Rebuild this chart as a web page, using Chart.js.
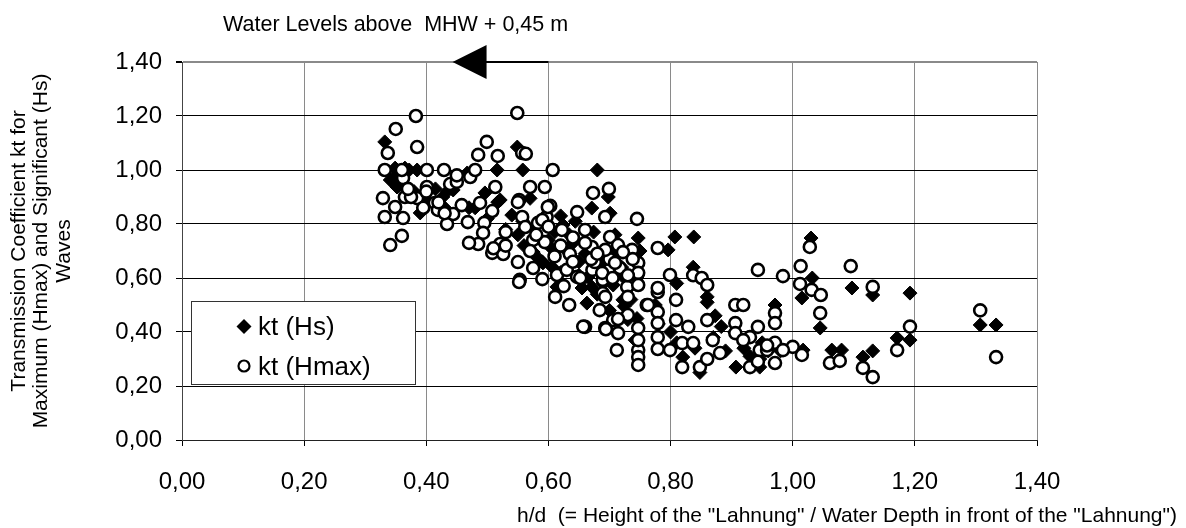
<!DOCTYPE html>
<html>
<head>
<meta charset="utf-8">
<script src="https://cdn.jsdelivr.net/npm/chart.js@4.4.0/dist/chart.umd.min.js"></script>
<style>
    html, body { margin: 0; padding: 0; background: #fff; }
    #wrap { position: relative; width: 1186px; height: 528px; }
</style>
</head>
<body>
<div id="wrap"><canvas id="chart"></canvas></div>
<script>
// Ticks for both axes (h/d and kt)
const xTickValues = [0, 0.2, 0.4, 0.6, 0.8, 1.0, 1.2, 1.4];
const yTickValues = [0, 0.2, 0.4, 0.6, 0.8, 1.0, 1.2, 1.4];

// kt (Hs) - [h/d, kt]
const ktHs = [
    [0.332, 1.104], [0.349, 1.007], [0.365, 1.007], [0.385, 1.0], [0.372, 1.0], [0.341, 0.963],
    [0.352, 0.937], [0.362, 0.94], [0.39, 0.841], [0.415, 0.93], [0.427, 0.90], [0.434, 0.92],
    [0.444, 0.926], [0.467, 0.989], [0.47, 0.86], [0.496, 0.915], [0.517, 0.881], [0.516, 1.0],
    [0.558, 1.0], [0.549, 1.085], [0.68, 1.0], [0.54, 0.833], [0.521, 0.889], [0.558, 0.81],
    [0.57, 0.895], [0.575, 0.785], [0.575, 0.696], [0.59, 0.66], [0.603, 0.715], [0.606, 0.641],
    [0.591, 0.656], [0.62, 0.83], [0.624, 0.796], [0.614, 0.567], [0.634, 0.76], [0.64, 0.674],
    [0.644, 0.81], [0.655, 0.563], [0.657, 0.595], [0.663, 0.507], [0.665, 0.604], [0.671, 0.859],
    [0.671, 0.567], [0.674, 0.77], [0.698, 0.90], [0.701, 0.84], [0.706, 0.574], [0.709, 0.76],
    [0.722, 0.519], [0.724, 0.495], [0.73, 0.446], [0.742, 0.37], [0.747, 0.748], [0.75, 0.70],
    [0.78, 0.43], [0.796, 0.704], [0.807, 0.752], [0.81, 0.58], [0.82, 0.307], [0.837, 0.64],
    [0.838, 0.752], [0.848, 0.25], [0.86, 0.53], [0.86, 0.51], [0.873, 0.46], [0.883, 0.42],
    [0.905, 0.40], [0.907, 0.27], [0.92, 0.34], [0.946, 0.27], [0.946, 0.30], [0.96, 0.33],
    [0.971, 0.50], [1.017, 0.333], [1.015, 0.526], [1.03, 0.748], [1.032, 0.60], [1.045, 0.415],
    [1.064, 0.333], [1.08, 0.333], [1.097, 0.563], [1.115, 0.307], [1.131, 0.537], [1.131, 0.33],
    [1.171, 0.378], [1.192, 0.544], [1.192, 0.37], [1.307, 0.426], [1.333, 0.426],
    [0.60, 0.74], [0.63, 0.70], [0.65, 0.66], [0.68, 0.63], [0.69, 0.58], [0.72, 0.61],
    [0.73, 0.56], [0.70, 0.48], [0.745, 0.60], [0.745, 0.45], [0.775, 0.50], [0.80, 0.40],
    [0.81, 0.36], [0.84, 0.34], [0.87, 0.38], [0.89, 0.33], [0.93, 0.31], [0.95, 0.36],
    [0.98, 0.33], [0.56, 0.72], [0.53, 0.78], [0.50, 0.82], [0.48, 0.86], [0.46, 0.87],
    [0.43, 0.86], [0.40, 0.89], [0.38, 0.92], [0.36, 0.96], [0.35, 0.98],
    [0.61, 0.77], [0.64, 0.73], [0.66, 0.69], [0.69, 0.66], [0.71, 0.70], [0.72, 0.64],
    [0.62, 0.62], [0.65, 0.61], [0.58, 0.68], [0.55, 0.76], [0.68, 0.54], [0.735, 0.52]
];

// kt (Hmax) - [h/d, kt]
const ktHmax = [
    [0.383, 1.20], [0.350, 1.152], [0.385, 1.085], [0.337, 1.063], [0.332, 1.0], [0.362, 0.97],
    [0.401, 1.0], [0.429, 1.0], [0.401, 0.937], [0.439, 0.948], [0.329, 0.896], [0.365, 0.90],
    [0.385, 0.896], [0.349, 0.863], [0.332, 0.826], [0.362, 0.822], [0.414, 0.878], [0.419, 0.852],
    [0.434, 0.80], [0.458, 0.87], [0.36, 0.756], [0.341, 0.722], [0.468, 0.807], [0.444, 0.837],
    [0.549, 1.211], [0.499, 1.104], [0.485, 1.056], [0.517, 1.052], [0.557, 1.063], [0.563, 1.06],
    [0.607, 1.0], [0.472, 0.974], [0.45, 0.956], [0.513, 0.937], [0.57, 0.937], [0.594, 0.937],
    [0.488, 0.878], [0.508, 0.848], [0.552, 0.889], [0.557, 0.826], [0.603, 0.867], [0.597, 0.826],
    [0.583, 0.804], [0.562, 0.789], [0.495, 0.804], [0.493, 0.767], [0.485, 0.726], [0.508, 0.693],
    [0.526, 0.689], [0.55, 0.659], [0.575, 0.741], [0.594, 0.733], [0.673, 0.915], [0.699, 0.93],
    [0.55, 0.881], [0.599, 0.863], [0.647, 0.844], [0.59, 0.815], [0.693, 0.826], [0.745, 0.819],
    [0.622, 0.778], [0.66, 0.778], [0.701, 0.752], [0.521, 0.726], [0.635, 0.689], [0.671, 0.715],
    [0.714, 0.722], [0.737, 0.704], [0.779, 0.711], [0.575, 0.637], [0.614, 0.611], [0.647, 0.604],
    [0.689, 0.593], [0.553, 0.593], [0.59, 0.596], [0.63, 0.63], [0.672, 0.63], [0.729, 0.567],
    [0.799, 0.611], [0.611, 0.53], [0.634, 0.50], [0.689, 0.544], [0.779, 0.548], [0.684, 0.481],
    [0.761, 0.50], [0.652, 0.60], [0.676, 0.659], [0.688, 0.619], [0.717, 0.637], [0.706, 0.444],
    [0.73, 0.463], [0.747, 0.415], [0.66, 0.419], [0.693, 0.415], [0.712, 0.333], [0.747, 0.333],
    [0.747, 0.307], [0.747, 0.278], [0.779, 0.474], [0.779, 0.433], [0.779, 0.381], [0.779, 0.337],
    [0.799, 0.333], [0.809, 0.519], [0.809, 0.444], [0.819, 0.359], [0.819, 0.27], [0.837, 0.359],
    [0.848, 0.27], [0.86, 0.444], [0.869, 0.37], [0.881, 0.322], [0.906, 0.50], [0.919, 0.50],
    [0.906, 0.433], [0.906, 0.396], [0.93, 0.381], [0.943, 0.419], [0.93, 0.27], [0.946, 0.333],
    [0.958, 0.333], [0.971, 0.47], [0.971, 0.433], [0.971, 0.36], [0.971, 0.285], [0.943, 0.63],
    [0.984, 0.607], [1.0, 0.345], [1.013, 0.644], [1.012, 0.578], [1.028, 0.715], [1.031, 0.556],
    [1.046, 0.537], [1.045, 0.47], [1.015, 0.315], [1.061, 0.285], [1.077, 0.293], [1.095, 0.644],
    [1.115, 0.267], [1.131, 0.233], [1.131, 0.567], [1.171, 0.333], [1.192, 0.42], [1.307, 0.48],
    [1.333, 0.307], [0.70, 0.67], [0.693, 0.704], [0.709, 0.656], [0.722, 0.696], [0.747, 0.656],
    [0.747, 0.619], [0.747, 0.574], [0.73, 0.53], [0.693, 0.53], [0.714, 0.448], [0.714, 0.396],
    [0.747, 0.37], [0.763, 0.50], [0.779, 0.563], [0.829, 0.419], [0.837, 0.61], [0.851, 0.60],
    [0.86, 0.574], [0.86, 0.30], [0.919, 0.37], [0.943, 0.29], [0.958, 0.35], [0.984, 0.333],
    [0.73, 0.61], [0.738, 0.67], [0.67, 0.67], [0.66, 0.73], [0.64, 0.75], [0.62, 0.72],
    [0.61, 0.68], [0.6, 0.79], [0.58, 0.76], [0.57, 0.70], [0.53, 0.77], [0.53, 0.72],
    [0.51, 0.71], [0.47, 0.73], [0.43, 0.84], [0.42, 0.88], [0.40, 0.92], [0.395, 0.86],
    [0.375, 0.9], [0.37, 0.93], [0.36, 1.0], [0.45, 0.98], [0.48, 1.0], [0.657, 0.42],
    [0.694, 0.41], [0.552, 0.585], [0.64, 0.66], [0.68, 0.69], [0.705, 0.60], [0.625, 0.57]
];

const seriesNames = ['kt (Hs)', 'kt (Hmax)'];
const chartTitle = 'Water Levels above  MHW + 0,45 m';
const xTitle = 'h/d  (= Height of the "Lahnung" / Water Depth in front of the "Lahnung")';
const yTitle = ['Transmission Coefficient kt for', 'Maximum (Hmax) and Significant (Hs)', 'Waves'];

// arrow on the top border, in h/d units
const arrowTail = 0.60;
const arrowTip = 0.443;

const FONT = '"Liberation Sans", Arial, sans-serif';
const fmt = v => v.toFixed(2).replace('.', ',');
const toPoints = arr => arr.map(p => ({ x: p[0], y: p[1] }));

// titles, arrow and the boxed legend
const extras = {
    id: 'extras',
    afterDraw(chart) {
        const { ctx, scales } = chart;
        const x = scales.x, y = scales.y;
        ctx.save();
        ctx.fillStyle = '#000';
        ctx.strokeStyle = '#000';

        ctx.font = '21.5px ' + FONT;
        ctx.textAlign = 'left';
        ctx.textBaseline = 'alphabetic';
        ctx.fillText(chartTitle, 223, 31);

        ctx.font = '21px ' + FONT;
        ctx.textAlign = 'right';
        ctx.fillText(xTitle, 1177, 522);

        // y title, three lines rotated
        ctx.textAlign = 'center';
        ctx.textBaseline = 'middle';
        yTitle.forEach((line, i) => {
            ctx.save();
            ctx.translate(19 + i * 22.5, 251);
            ctx.rotate(-Math.PI / 2);
            ctx.fillText(line, 0, 0);
            ctx.restore();
        });

        // arrow
        const ay = y.getPixelForValue(1.4);
        const tip = x.getPixelForValue(arrowTip);
        const tail = x.getPixelForValue(arrowTail);
        ctx.lineWidth = 2;
        ctx.beginPath();
        ctx.moveTo(tip + 30, ay);
        ctx.lineTo(tail, ay);
        ctx.stroke();
        ctx.beginPath();
        ctx.moveTo(tip, ay);
        ctx.lineTo(tip + 34, ay - 17);
        ctx.lineTo(tip + 34, ay + 17);
        ctx.closePath();
        ctx.fill();

        // legend box
        ctx.fillStyle = '#fff';
        ctx.fillRect(191, 301, 224, 83);
        ctx.lineWidth = 1;
        ctx.strokeStyle = '#333';
        ctx.strokeRect(191.5, 301.5, 224, 83);

        ctx.fillStyle = '#000';
        ctx.beginPath();
        ctx.moveTo(244, 319);
        ctx.lineTo(251.5, 326.5);
        ctx.lineTo(244, 334);
        ctx.lineTo(236.5, 326.5);
        ctx.closePath();
        ctx.fill();

        ctx.fillStyle = '#fff';
        ctx.lineWidth = 2.2;
        ctx.strokeStyle = '#000';
        ctx.beginPath();
        ctx.arc(244, 366, 5.5, 0, Math.PI * 2);
        ctx.fill();
        ctx.stroke();

        ctx.fillStyle = '#000';
        ctx.font = '26px ' + FONT;
        ctx.textAlign = 'left';
        ctx.textBaseline = 'middle';
        ctx.fillText(seriesNames[0], 258, 328);
        ctx.fillText(seriesNames[1], 258, 368);
        ctx.restore();
    }
};

const ctx = document.getElementById('chart');

new Chart(ctx, {
    type: 'scatter',
    data: {
        datasets: [{
            label: seriesNames[0],
            data: toPoints(ktHs),
            pointStyle: 'rectRot',
            pointRadius: 7,
            pointBackgroundColor: '#000',
            pointBorderColor: '#000',
            pointBorderWidth: 1,
            order: 2
        }, {
            label: seriesNames[1],
            data: toPoints(ktHmax),
            pointStyle: 'circle',
            pointRadius: 6,
            pointBackgroundColor: '#fff',
            pointBorderColor: '#000',
            pointBorderWidth: 2.6,
            order: 1
        }]
    },
    options: {
        responsive: true,
        maintainAspectRatio: false,
        animation: false,
        devicePixelRatio: 1,
        layout: { padding: { left: 0, right: 149, top: 62, bottom: 0 } },
        plugins: {
            legend: { display: false },
            tooltip: { enabled: false }
        },
        scales: {
            x: {
                type: 'linear',
                min: 0,
                max: 1.4,
                afterBuildTicks: s => { s.ticks = xTickValues.map(v => ({ value: v })); },
                afterFit: s => { s.height = 88; },
                grid: {
                    color: '#8a8a8a',
                    lineWidth: 1,
                    tickLength: 6,
                    tickColor: '#000'
                },
                border: { display: true, color: '#222', width: 1 },
                ticks: {
                    padding: 22,
                    color: '#000',
                    font: { family: FONT, size: 24 },
                    callback: v => fmt(v)
                }
            },
            y: {
                type: 'linear',
                min: 0,
                max: 1.4,
                afterBuildTicks: s => { s.ticks = yTickValues.map(v => ({ value: v })); },
                afterFit: s => { s.width = 182; },
                grid: {
                    color: c => (c.tick && c.tick.value >= 1.4 ? '#8a8a8a' : '#000'),
                    lineWidth: c => (c.tick && c.tick.value >= 1.4 ? 2 : 1),
                    tickLength: 6,
                    tickColor: '#000'
                },
                border: { display: true, color: '#444', width: 1 },
                ticks: {
                    padding: 14,
                    color: '#000',
                    font: { family: FONT, size: 24 },
                    callback: v => fmt(v)
                }
            }
        }
    },
    plugins: [extras]
});
</script>
</body>
</html>
